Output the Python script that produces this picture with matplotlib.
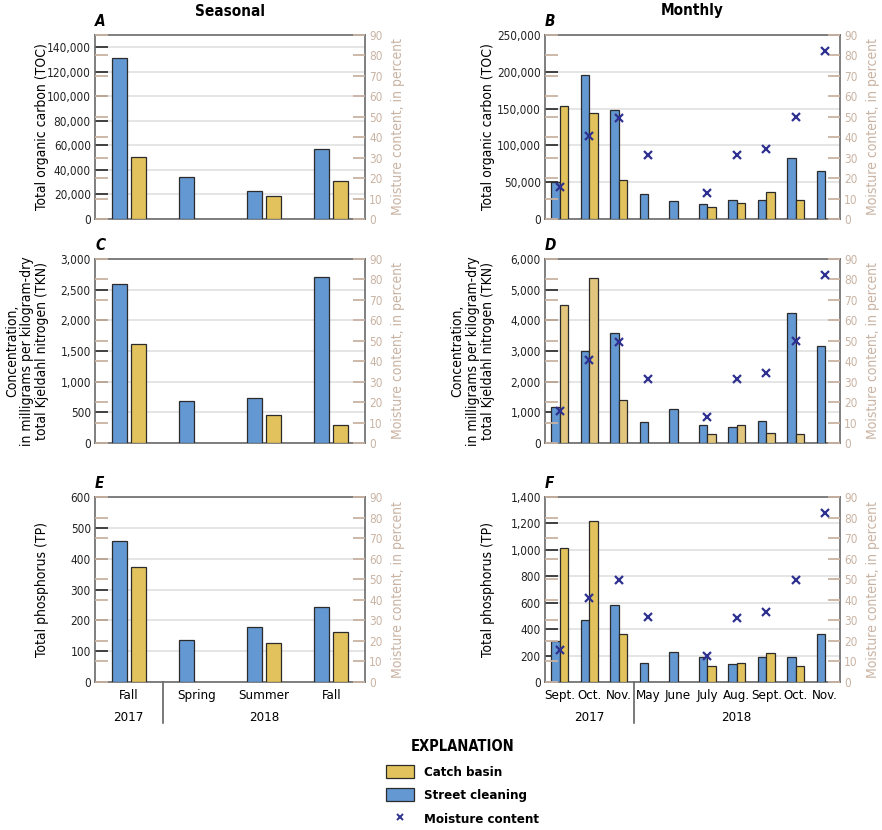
import numpy as np
import matplotlib
matplotlib.use("Agg")
from matplotlib import pyplot as plt
from matplotlib.patches import Patch
from matplotlib.lines import Line2D
from matplotlib.ticker import FuncFormatter

plt.rcParams['font.family'] = ['DejaVu Sans']
plt.rcParams['font.stretch'] = 'condensed'

# ---- data ----
seasons = ["Fall", "Spring", "Summer", "Fall"]
season_years = ["2017", "2018"]
season_year_counts = [1, 3]

months = ["Sept.", "Oct.", "Nov.", "May", "June", "July", "Aug.", "Sept.", "Oct.", "Nov."]
month_years = ["2017", "2018"]
month_year_counts = [3, 7]

nan = np.nan

toc_season_street = [131500, 33900, 22800, 57200]
toc_season_catch = [50200, nan, 18700, 31200]
tkn_season_street = [2600, 690, 740, 2710]
tkn_season_catch = [1610, nan, 450, 300]
tp_season_street = [458, 137, 180, 243]
tp_season_catch = [372, nan, 126, 162]

toc_month_street = [49700, 195300, 147800, 33900, 24400, 20800, 25800, 25800, 82700, 65100]
toc_month_catch = [154200, 143800, 52900, nan, nan, 16700, 22200, 36600, 25800, nan]
tkn_month_street = [1190, 3010, 3590, 690, 1120, 590, 510, 730, 4240, 3150]
tkn_month_catch = [4510, 5380, 1390, nan, nan, 290, 590, 310, 290, nan]
tp_month_street = [310, 471, 586, 145, 230, 190, 135, 188, 188, 365]
tp_month_catch = [1016, 1222, 360, nan, nan, 118, 145, 218, 118, nan]

moisture_month = [15.6, 40.8, 49.5, 31.4, nan, 12.7, 31.1, 34.2, 49.8, 82.0]

# ---- style ----
blue = "#6498d2"
gold = "#e2c25c"
gold_light = "#e2c67e"
navy = "#2e318f"
tan = "#c9b3a3"
edge = "#2b2b2b"
grid_c = "#e0e0e0"

fig = plt.figure(figsize=(8.82, 8.30), dpi=100)
W, H = 882, 830


def axes_px(left, top, right, bottom):
    return fig.add_axes([left / W, 1 - bottom / H, (right - left) / W, (bottom - top) / H])


thousands = FuncFormatter(lambda v, p: f"{int(v):,}")


def panel(ax, labels, street, catch, ymax, ystep, letter, ylabel, moisture=None,
          bottom=False, years=None, year_counts=None, catch_color=gold, width=0.22, off=0.14):
    n = len(labels)
    x = np.arange(n)
    ax.set_axisbelow(True)
    ax.yaxis.grid(True, color=grid_c, lw=1.2)
    ax.bar(x - off, street, width, color=blue, edgecolor=edge, lw=0.9, zorder=3)
    ax.bar(x + off, catch, width, color=catch_color, edgecolor=edge, lw=0.9, zorder=3)
    ax.set_xlim(-0.5, n - 0.5)
    ax.set_ylim(0, ymax)
    ax.set_yticks(np.arange(0, ymax + 1, ystep))
    ax.yaxis.set_major_formatter(thousands)
    ax.tick_params(axis='y', which='both', direction='in', left=True, right=True,
                   length=9, width=1.3, color="#333333", labelsize=8.5, pad=3,
                   labelcolor="#222222")
    ax.tick_params(axis='x', length=0)
    for s in ax.spines.values():
        s.set_color("#6a6a6a")
        s.set_linewidth(1.2)
    ax.set_ylabel(ylabel, fontsize=10, linespacing=1.1)
    ax.yaxis.set_label_coords(-0.17, 0.5)
    ax.text(0.0, 1.03, letter, transform=ax.transAxes, fontsize=11,
            fontweight='bold', style='italic', ha='left', va='bottom')

    ax2 = ax.twinx()
    ax2.set_ylim(0, 90)
    ax2.set_yticks(np.arange(0, 91, 10))
    ax2.yaxis.set_ticks_position('both')
    ax2.tick_params(axis='y', direction='in', length=9, width=1.3, color=tan,
                    labelcolor=tan, labelsize=8.5, pad=3, labelleft=False, labelright=True)
    ax2.set_ylabel("Moisture content, in percent", color=tan, fontsize=10, labelpad=6)
    for s in ax2.spines.values():
        s.set_visible(False)
    if moisture is not None:
        ax2.plot(x, moisture, ls='none', marker='x', ms=6, mew=1.6, color=navy, zorder=5)

    if bottom:
        ax.set_xticks(x)
        ax.set_xticklabels(labels, fontsize=9.5)
        ax.tick_params(axis='x', pad=5)
        trans = ax.get_xaxis_transform()
        start = 0
        for i, (yr, cnt) in enumerate(zip(years, year_counts)):
            center = start + (cnt - 1) / 2
            ax.text(center, -0.155, yr, transform=trans, ha='center', va='top', fontsize=9.5)
            if i > 0:
                ax.plot([start - 0.5, start - 0.5], [0, -0.22], transform=trans,
                        color="#555555", lw=1.1, clip_on=False)
            start += cnt
    else:
        ax.set_xticks([])
    return ax2


axA = axes_px(95, 35, 365, 219)
axB = axes_px(545, 35, 840, 219)
axC = axes_px(95, 259, 365, 443)
axD = axes_px(545, 259, 840, 443)
axE = axes_px(95, 497, 365, 682)
axF = axes_px(545, 497, 840, 682)

panel(axA, seasons, toc_season_street, toc_season_catch, 150000, 20000, "A",
      "Total organic carbon (TOC)")
axA.set_yticks(np.arange(0, 140001, 20000))
axA.set_ylim(0, 150000)
panel(axB, months, toc_month_street, toc_month_catch, 250000, 50000, "B",
      "Total organic carbon (TOC)", moisture=moisture_month, width=0.28)
conc_label = ("Concentration,\nin milligrams per kilogram-dry\n"
              "total Kjeldahl nitrogen (TKN)")
panel(axC, seasons, tkn_season_street, tkn_season_catch, 3000, 500, "C", conc_label)
panel(axD, months, tkn_month_street, tkn_month_catch, 6000, 1000, "D", conc_label,
      moisture=moisture_month, catch_color=gold_light, width=0.28)
panel(axE, seasons, tp_season_street, tp_season_catch, 600, 100, "E",
      "Total phosphorus (TP)", bottom=True, years=season_years,
      year_counts=season_year_counts)
panel(axF, months, tp_month_street, tp_month_catch, 1400, 200, "F",
      "Total phosphorus (TP)", moisture=moisture_month, width=0.28, bottom=True,
      years=month_years, year_counts=month_year_counts)

fig.text(230 / W, 1 - 11 / H, "Seasonal", ha='center', va='center', fontsize=11, fontweight='bold')
fig.text(692 / W, 1 - 11 / H, "Monthly", ha='center', va='center', fontsize=11, fontweight='bold')

# legend
handles = [Patch(facecolor=gold, edgecolor=edge, lw=0.9),
           Patch(facecolor=blue, edgecolor=edge, lw=0.9),
           Line2D([], [], ls='none', marker='x', ms=5, mew=1.4, color=navy)]
leg = fig.legend(handles, ["Catch basin", "Street cleaning", "Moisture content"],
                 loc='upper left', bbox_to_anchor=(374 / W, 1 - 727 / H), frameon=False,
                 title="EXPLANATION", handlelength=2.1, handleheight=1.15,
                 labelspacing=0.7, handletextpad=0.8,
                 prop={'size': 9.5, 'weight': 'bold'},
                 title_fontproperties={'size': 10.5, 'weight': 'bold'})
leg._legend_box.sep = 8

fig.savefig("out.png", dpi=100)
